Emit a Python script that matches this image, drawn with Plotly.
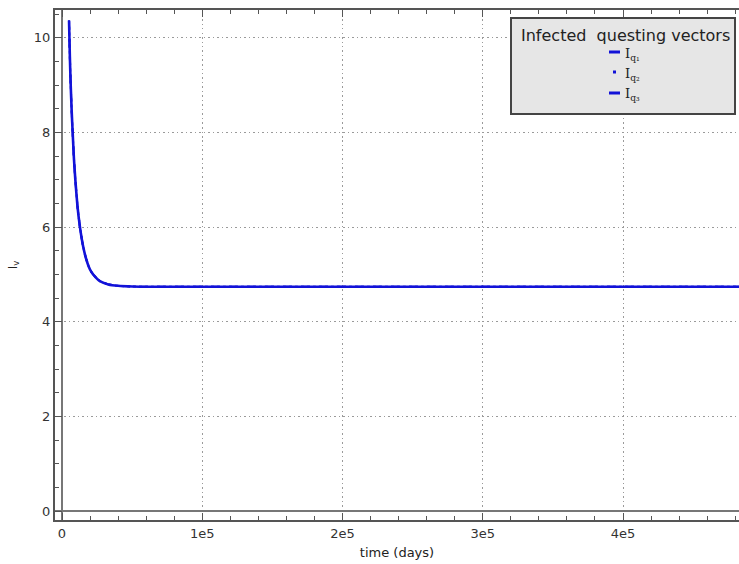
import plotly.graph_objects as go

# Infected questing vectors over time (three identical compartments)
time_days = [5000, 5600, 6200, 6900, 7600, 8500, 9500, 11000, 12800, 15000,
             17000, 19000, 21000, 24000, 27000, 33000, 40000, 50000, 60000, 485000]
i_q = [10.37, 9.6, 9.0, 8.45, 8.0, 7.45, 7.0, 6.45, 6.0, 5.6,
       5.35, 5.17, 5.05, 4.94, 4.86, 4.79, 4.76, 4.745, 4.74, 4.74]

series_names = ["I<sub>q₁</sub>", "I<sub>q₂</sub>", "I<sub>q₃</sub>"]
series_dash = ["solid", "dot", "dash"]
series_width = [2.6, 2.0, 2.0]

x_ticks = [0, 100000, 200000, 300000, 400000]
x_tick_text = ["0", "1e5", "2e5", "3e5", "4e5"]
y_ticks = [0, 2, 4, 6, 8, 10]

W, H = 739, 564
L, T, B, R = 55, 10, 44, 0
pw, ph = W - L - R, H - T - B


def px(x):
    return (x - L) / pw


def py(y):
    return (H - B - y) / ph


fig = go.Figure()
# drawn so the solid curve ends on top
for name, dash, lw in reversed(list(zip(series_names, series_dash, series_width))):
    fig.add_trace(go.Scatter(
        x=time_days, y=i_q, mode="lines", name=name,
        line=dict(color="#1212d8", width=lw, dash=dash, shape="spline", smoothing=0.5),
        showlegend=False,
    ))
# top frame carrying mirrored ticks
fig.add_trace(go.Scatter(x=[None], y=[None], xaxis="x2", showlegend=False))

frame_col = "#555555"
axis_font = dict(family="DejaVu Sans", size=13, color="#333333")
grid_dash = "1.5px,3px"

fig.update_layout(
    width=W, height=H,
    margin=dict(l=L, r=R, t=T, b=B),
    paper_bgcolor="white", plot_bgcolor="white",
    font=dict(family="DejaVu Sans", color="#333333"),
    xaxis=dict(
        range=[-5000, 482700],
        tickvals=x_ticks, ticktext=x_tick_text, tickfont=axis_font,
        ticks="inside", ticklen=7, tickcolor=frame_col, tickwidth=1,
        minor=dict(dtick=20000, tick0=0, ticks="inside", ticklen=4, tickcolor=frame_col, showgrid=False),
        showline=True, linecolor=frame_col, linewidth=2,
        showgrid=True, gridcolor="#9a9a9a", griddash=grid_dash, gridwidth=1.3,
        zeroline=True, zerolinecolor="#777777", zerolinewidth=2,
        title=dict(text="time (days)", font=dict(size=13, color="#222222"), standoff=8),
    ),
    xaxis2=dict(
        overlaying="x", matches="x", side="top",
        range=[-5000, 482700],
        tickvals=x_ticks, showticklabels=False,
        ticks="inside", ticklen=7, tickcolor=frame_col,
        minor=dict(dtick=20000, tick0=0, ticks="inside", ticklen=4, tickcolor=frame_col, showgrid=False),
        showline=True, linecolor=frame_col, linewidth=2,
        showgrid=False, zeroline=False,
    ),
    yaxis=dict(
        range=[-0.19, 10.59],
        tickvals=y_ticks, tickfont=axis_font,
        ticks="inside", ticklen=7, tickcolor=frame_col, tickwidth=1,
        minor=dict(dtick=0.5, tick0=0, ticks="inside", ticklen=4, tickcolor=frame_col, showgrid=False),
        showline=True, linecolor=frame_col, linewidth=2,
        showgrid=True, gridcolor="#9a9a9a", griddash=grid_dash, gridwidth=1.3,
        zeroline=True, zerolinecolor="#777777", zerolinewidth=2,
        title=dict(text="I<sub>v</sub>", font=dict(size=12, color="#222222"), standoff=14),
    ),
)

# legend panel
fig.add_shape(type="rect", xref="paper", yref="paper",
              x0=px(511), x1=px(735), y0=py(114), y1=py(18),
              fillcolor="#e6e6e6", line=dict(color="#444444", width=2), layer="above")
fig.add_annotation(xref="paper", yref="paper", x=px(625), y=py(35),
                   text="Infected  questing vectors", showarrow=False,
                   font=dict(family="DejaVu Sans", size=16, color="#222222"),
                   xanchor="center", yanchor="middle")
legend_rows = [52, 72, 93]
sample_spans = [(609, 620), (613, 616), (609, 620)]
for name, row, (a, b) in zip(series_names, legend_rows, sample_spans):
    fig.add_shape(type="line", xref="paper", yref="paper",
                  x0=px(a), x1=px(b), y0=py(row), y1=py(row),
                  line=dict(color="#1212d8", width=3), layer="above")
    fig.add_annotation(xref="paper", yref="paper", x=px(623), y=py(row + 2),
                       text=name, showarrow=False,
                       font=dict(family="DejaVu Serif", size=13, color="#222222"),
                       xanchor="left", yanchor="middle")

fig.write_html("out.html")
